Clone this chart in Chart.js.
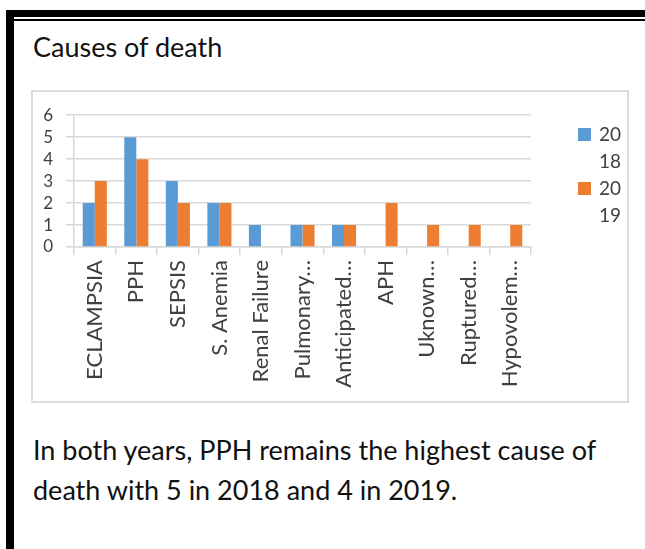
<!DOCTYPE html>
<html>
<head>
<meta charset="utf-8">
<script src="https://cdn.jsdelivr.net/npm/chart.js@4.4.0/dist/chart.umd.min.js"></script>
<style>
  body { margin: 0; background: #fff; font-family: Lato, "Open Sans", sans-serif; }
  #page { position: relative; width: 645px; height: 549px; overflow: hidden; }
  .bar-top { position: absolute; left: 6px; top: 10px; width: 639px; height: 7px; background: #000; }
  .bar-top2 { position: absolute; left: 14px; top: 19px; width: 631px; height: 2px; background: #000; }
  .bar-left { position: absolute; left: 6px; top: 10px; width: 8px; height: 539px; background: #000; }
  #title { position: absolute; left: 33px; top: 30px; font-size: 27px; color: #111; }
  #box { position: absolute; left: 31px; top: 90px; width: 594px; height: 309px; border: 2px solid #dcdcdc; }
  #chartWrap { position: absolute; left: 0; top: 0; width: 594px; height: 309px; }
  #legend { position: absolute; left: 545px; top: 28px; font-size: 19px; color: #404040; line-height: 27px; }
  .item { position: relative; padding-left: 21px; width: 24px; word-break: break-all; }
  .swatch { position: absolute; left: 0; top: 8px; width: 13px; height: 13px; }
  #note { position: absolute; left: 33px; top: 430px; font-size: 27px; color: #111; line-height: 40px; width: 585px; }
</style>
</head>
<body>
<div id="page">
  <div class="bar-top"></div>
  <div class="bar-top2"></div>
  <div class="bar-left"></div>
  <div id="title">Causes of death</div>
  <div id="box">
    <div id="chartWrap"><canvas id="deathChart"></canvas></div>
    <div id="legend"></div>
  </div>
  <div id="note">In both years, PPH remains the highest cause of death with 5 in 2018 and 4 in 2019.</div>
</div>
<script>
const causes = ['ECLAMPSIA', 'PPH', 'SEPSIS', 'S. Anemia', 'Renal Failure', 'Pulmonary…',
  'Anticipated…', 'APH', 'Uknown…', 'Ruptured…', 'Hypovolem…'];
const deaths2018 = [2, 5, 3, 2, 1, 1, 1, 0, 0, 0, 0];
const deaths2019 = [3, 4, 2, 2, 0, 1, 1, 2, 1, 1, 1];
const yearLabels = ['2018', '2019'];
const yTicks = [0, 1, 2, 3, 4, 5, 6];

const ctx = document.getElementById('deathChart').getContext('2d');
const chart = new Chart(ctx, {
    type: 'bar',
    data: {
        labels: causes,
        datasets: [{
            label: yearLabels[0],
            data: deaths2018,
            backgroundColor: '#5B9BD5',
            categoryPercentage: 0.58,
            barPercentage: 1.0
        }, {
            label: yearLabels[1],
            data: deaths2019,
            backgroundColor: '#ED7D31',
            categoryPercentage: 0.58,
            barPercentage: 1.0
        }]
    },
    options: {
        responsive: true,
        maintainAspectRatio: false,
        animation: false,
        layout: { padding: { left: 5, right: 96, top: 13, bottom: 4 } },
        plugins: { legend: { display: false }, tooltip: { enabled: false } },
        scales: {
            x: {
                grid: { drawOnChartArea: false, tickLength: 8, color: '#d9d9d9', lineWidth: 1.5 },
                border: { color: '#d9d9d9', width: 1.5 },
                ticks: { minRotation: 90, maxRotation: 90, autoSkip: false, padding: 5,
                         color: '#404040', font: { family: 'Lato', size: 22 } },
                afterFit: scale => { scale.height = 150; }
            },
            y: {
                min: 0, max: 6,
                afterBuildTicks: scale => { scale.ticks = yTicks.map(v => ({ value: v })); },
                grid: { color: '#d9d9d9', lineWidth: 1.5, tickLength: 8 },
                border: { color: '#d9d9d9', width: 1.5 },
                ticks: { autoSkip: false, padding: 13, color: '#404040', font: { family: 'Lato', size: 17 } },
                afterFit: scale => { scale.width = 36; }
            }
        }
    }
});

// legend, narrow like the original so the years wrap
const legend = document.getElementById('legend');
chart.data.datasets.forEach(ds => {
    const item = document.createElement('div');
    item.className = 'item';
    item.innerHTML = '<span class="swatch" style="background:' + ds.backgroundColor + '"></span>' + ds.label;
    legend.appendChild(item);
});
</script>
</body>
</html>
